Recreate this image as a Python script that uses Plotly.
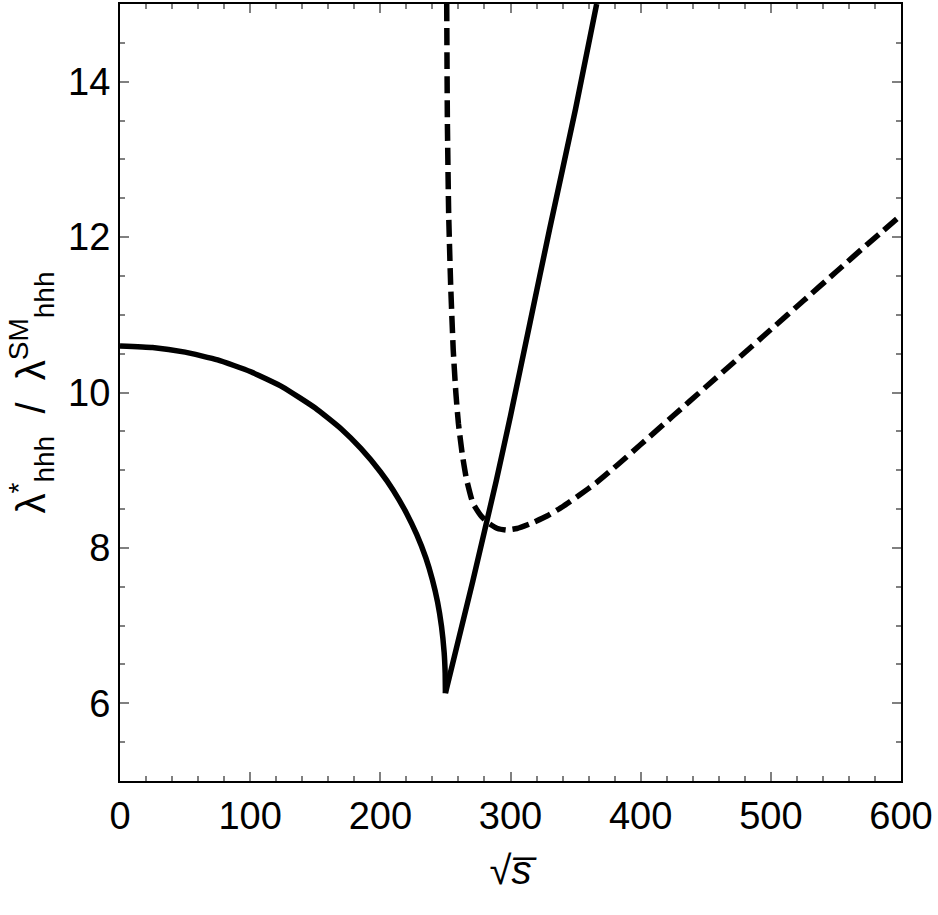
import plotly.graph_objects as go

# Solid curve, left branch (below threshold)
solid_left_x = [0, 25, 50, 75, 100, 125, 150, 170, 185, 200, 210, 220, 228, 235, 240, 244, 247, 249, 249.8, 250]
solid_left_y = [10.60, 10.58, 10.52, 10.42, 10.27, 10.07, 9.80, 9.53, 9.28, 8.98, 8.74, 8.45, 8.17, 7.87, 7.59, 7.30, 6.99, 6.66, 6.39, 6.13]

# Solid curve, right branch
solid_right_x = [250, 271, 289, 300, 315, 330, 350, 366.2]
solid_right_y = [6.13, 7.57, 8.86, 9.7, 10.9, 12.1, 13.65, 15.0]

# Dashed curve
dashed_x = [251, 251.5, 252.5, 254, 256, 258, 260, 263, 266, 271, 277, 283, 290, 297, 305, 315, 328, 340,
            353, 366, 383, 400, 425, 450, 475, 500, 525, 550, 575, 600]
dashed_y = [15.0, 13.5, 12.3, 11.4, 10.55, 10.0, 9.6, 9.2, 8.9, 8.58, 8.42, 8.32, 8.25, 8.23, 8.25, 8.31, 8.41, 8.53,
            8.68, 8.84, 9.08, 9.33, 9.70, 10.07, 10.44, 10.81, 11.18, 11.55, 11.92, 12.28]

x_ticks = [0, 100, 200, 300, 400, 500, 600]
y_ticks = [6, 8, 10, 12, 14]

fig = go.Figure()
fig.add_trace(go.Scatter(x=solid_left_x, y=solid_left_y, mode="lines",
                         line=dict(color="black", width=5.5, shape="spline", smoothing=0.4)))
fig.add_trace(go.Scatter(x=solid_right_x, y=solid_right_y, mode="lines",
                         line=dict(color="black", width=5.5, shape="spline", smoothing=0.4)))
fig.add_trace(go.Scatter(x=dashed_x, y=dashed_y, mode="lines",
                         line=dict(color="black", width=5.5, dash="17px,7px", shape="spline", smoothing=0.4)))

axis_font = dict(family="Liberation Sans, Arial", size=38, color="black")
fig.update_layout(
    width=938, height=915,
    margin=dict(l=120, r=37, t=2, b=134),
    paper_bgcolor="white", plot_bgcolor="white",
    showlegend=False,
    font=axis_font,
    xaxis=dict(range=[0, 600], tickvals=x_ticks, ticktext=[str(v) for v in x_ticks],
               showgrid=False, zeroline=False, showline=True, linecolor="black", linewidth=2,
               mirror="ticks", ticks="inside", ticklen=9, tickwidth=2, tickcolor="#808080",
               minor=dict(dtick=20, ticks="inside", ticklen=5, tickwidth=2, tickcolor="#808080"),
               tickfont=axis_font,
               title=dict(text="√<i>s̅</i>", font=dict(family="Liberation Sans, Arial", size=40, color="black"), standoff=20)),
    yaxis=dict(range=[5, 15], tickvals=y_ticks, ticktext=[str(v) for v in y_ticks],
               showgrid=False, zeroline=False, showline=True, linecolor="black", linewidth=2,
               mirror="ticks", ticks="inside", ticklen=9, tickwidth=2, tickcolor="#808080",
               minor=dict(dtick=0.5, ticks="inside", ticklen=5, tickwidth=2, tickcolor="#808080"),
               tickfont=axis_font,
               title=dict(text="λ<sup>*</sup><sub>hhh</sub>  /  λ<sup>SM</sup><sub>hhh</sub>",
                          font=dict(family="Liberation Sans, Arial", size=40, color="black"), standoff=10)),
)

fig.write_html("out.html")
